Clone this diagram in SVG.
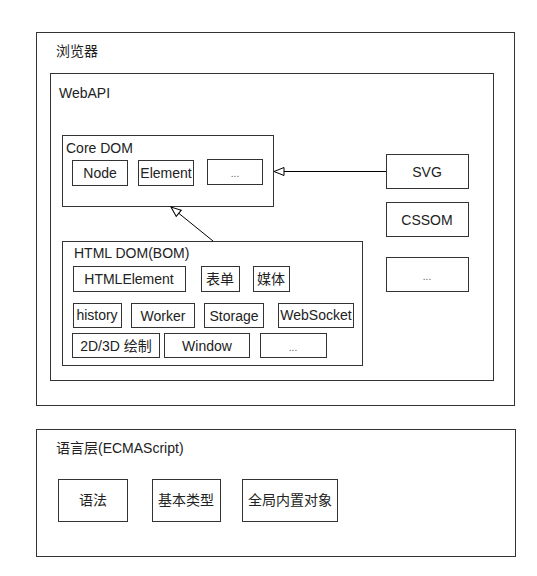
<svg xmlns="http://www.w3.org/2000/svg" width="537" height="576" viewBox="0 0 537 576">
<defs>
<style>
rect{fill:#fff;stroke:#333;stroke-width:1}
text{font-family:"Liberation Sans","Noto Sans CJK SC",sans-serif;font-size:14px;fill:#222}
.c{text-anchor:middle}
.d{font-size:10px;fill:#555}
.e{stroke:#000;stroke-width:1;fill:none}
</style>
<marker id="tri" markerWidth="14" markerHeight="12" refX="11" refY="5" orient="auto" markerUnits="userSpaceOnUse">
<path d="M1,1 L11,5 L1,9 Z" fill="#fff" stroke="#000" stroke-width="1"/>
</marker>
</defs>
<rect width="537" height="576" style="fill:#fff;stroke:none"/>
<g id="browser"><rect x="36.5" y="32.5" width="478" height="373"/><text x="56" y="56">浏览器</text></g>
<g id="webapi"><rect x="50.5" y="73.5" width="443" height="307"/><text x="59" y="98">WebAPI</text></g>
<g id="coredom"><rect x="62.5" y="135.5" width="211" height="71"/><text x="66" y="153">Core DOM</text></g>
<g id="node"><rect x="72.5" y="160.5" width="55" height="25"/><text class="c" x="100" y="178">Node</text></g>
<g id="element"><rect x="138.5" y="160.5" width="55" height="25"/><text class="c" x="166" y="178">Element</text></g>
<g id="coremore"><rect x="207.5" y="159.5" width="55" height="25"/><text class="c d" x="235" y="177">...</text></g>
<g id="svg"><rect x="386.5" y="154.5" width="82" height="34"/><text class="c" x="427" y="177">SVG</text></g>
<g id="cssom"><rect x="386.5" y="202.5" width="82" height="34"/><text class="c" x="427" y="225">CSSOM</text></g>
<g id="apimore"><rect x="386.5" y="257.5" width="82" height="34"/><text class="c d" x="427" y="280">...</text></g>
<g id="htmldom"><rect x="62.5" y="241.5" width="300" height="124"/><text x="74" y="258">HTML DOM(BOM)</text></g>
<g id="htmlelement"><rect x="73.5" y="266.5" width="112" height="25"/><text class="c" x="129" y="284">HTMLElement</text></g>
<g id="form"><rect x="201.5" y="266.5" width="38" height="25"/><text class="c" x="220" y="284">表单</text></g>
<g id="media"><rect x="253.5" y="266.5" width="36" height="25"/><text class="c" x="271" y="284">媒体</text></g>
<g id="history"><rect x="73.5" y="303.5" width="48" height="24"/><text class="c" x="97" y="320">history</text></g>
<g id="worker"><rect x="131.5" y="303.5" width="63" height="24"/><text class="c" x="163" y="321">Worker</text></g>
<g id="storage"><rect x="204.5" y="303.5" width="59" height="24"/><text class="c" x="234" y="321">Storage</text></g>
<g id="websocket"><rect x="278.5" y="303.5" width="75" height="24"/><text class="c" x="316" y="320">WebSocket</text></g>
<g id="draw"><rect x="72.5" y="333.5" width="87" height="24"/><text class="c" x="116" y="351">2D/3D 绘制</text></g>
<g id="window"><rect x="164.5" y="333.5" width="85" height="24"/><text class="c" x="207" y="351">Window</text></g>
<g id="htmlmore"><rect x="260.5" y="333.5" width="66" height="24"/><text class="c d" x="293" y="351">...</text></g>
<g id="ecma"><rect x="36.5" y="429.5" width="479" height="127"/><text x="56" y="453">语言层(ECMAScript)</text></g>
<g id="syntax"><rect x="58.5" y="479.5" width="69" height="42"/><text class="c" x="93" y="505">语法</text></g>
<g id="types"><rect x="152.5" y="479.5" width="68" height="42"/><text class="c" x="186" y="505">基本类型</text></g>
<g id="globals"><rect x="242.5" y="479.5" width="95" height="42"/><text class="c" x="290" y="505">全局内置对象</text></g>
<g id="connectors">
<path class="e" d="M386,171.5 L274,171.5" marker-end="url(#tri)"/>
<path class="e" d="M213,241 L171,207" marker-end="url(#tri)"/>
</g>
</svg>
